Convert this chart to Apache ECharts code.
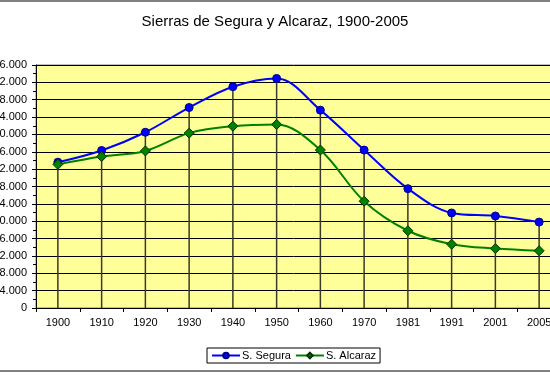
<!DOCTYPE html>
<html>
<head>
<meta charset="utf-8">
<script src="https://cdn.jsdelivr.net/npm/echarts@6/dist/echarts.min.js"></script>
<style>
html,body{margin:0;padding:0;background:#fff;}
#chart{width:550px;height:377px;}
</style>
</head>
<body>
<div id="chart"></div>
<script>
var years = ['1900','1910','1920','1930','1940','1950','1960','1970','1981','1991','2001','2005'];
var segura = [33600, 36300, 40500, 46200, 51000, 52900, 45600, 36400, 27500, 21900, 21200, 19800];
var alcaraz = [33100, 34900, 36200, 40300, 41900, 42300, 36400, 24600, 17800, 14700, 13700, 13200];
var yTicks = {min: 0, max: 56000, step: 4000};

var dropTops = segura.map(function(v, i){ return Math.max(v, alcaraz[i]); });
var FONT = '"Liberation Sans", Arial, sans-serif';

var chart = echarts.init(document.getElementById('chart'), null, {renderer: 'canvas'});
chart.setOption({
  animation: false,
  backgroundColor: '#ffffff',
  title: {
    text: 'Sierras de Segura y Alcaraz, 1900-2005',
    left: 'center', top: 9,
    textStyle: {fontFamily: FONT, fontSize: 15, fontWeight: 'normal', color: '#000'}
  },
  legend: {
    data: ['S. Segura', 'S. Alcaraz'],
    left: 207, top: 348,
    padding: [2, 4, 2, 4],
    itemGap: 4,
    itemWidth: 28, itemHeight: 7,
    borderColor: '#000', borderWidth: 1,
    backgroundColor: '#fff',
    textStyle: {fontFamily: FONT, fontSize: 11, color: '#000', padding: [0,0,0,-3]}
  },
  grid: {
    left: 36, top: 65, right: -11, bottom: 69,
    containLabel: false, outerBoundsMode: 'none',
    show: true, backgroundColor: '#FFFF99', borderColor: '#808080', borderWidth: 1
  },
  xAxis: {
    type: 'category', data: years, boundaryGap: true,
    axisLine: {lineStyle: {color: '#000', width: 1}},
    axisTick: {show: true, length: 4, alignWithLabel: false, lineStyle: {color: '#000'}},
    axisLabel: {fontFamily: FONT, fontSize: 11, color: '#000', margin: 9, interval: 0},
    splitLine: {show: false}
  },
  yAxis: {
    type: 'value', min: yTicks.min, max: yTicks.max, interval: yTicks.step,
    axisLine: {show: true, lineStyle: {color: '#000', width: 1}},
    axisTick: {show: true, length: 4, lineStyle: {color: '#000'}},
    minorTick: {show: true, splitNumber: 2, length: 3, lineStyle: {color: '#000'}},
    axisLabel: {
      fontFamily: FONT, fontSize: 11, color: '#000', margin: 9,
      formatter: function(v){ return v.toString().replace(/\B(?=(\d{3})+(?!\d))/g, '.'); }
    },
    splitLine: {show: true, lineStyle: {color: '#000', width: 1}}
  },
  graphic: [
    {type: 'line', shape: {x1: 0, y1: 1, x2: 550, y2: 1}, style: {stroke: '#808080', lineWidth: 2}, silent: true},
    {type: 'line', shape: {x1: 0, y1: 371, x2: 550, y2: 371}, style: {stroke: '#808080', lineWidth: 2}, silent: true}
  ],
  series: [
    {
      name: 'drop', type: 'bar', data: dropTops, barWidth: 1.5, silent: true,
      itemStyle: {color: '#3a3a2a'}, z: 1, legendHoverLink: false
    },
    {
      name: 'S. Segura', type: 'line', data: segura, smooth: 0.35,
      symbol: 'circle', symbolSize: 8,
      lineStyle: {color: '#0000FF', width: 2},
      itemStyle: {color: '#0000FF', borderColor: '#000080', borderWidth: 1},
      z: 3
    },
    {
      name: 'S. Alcaraz', type: 'line', data: alcaraz, smooth: 0.35,
      symbol: 'diamond', symbolSize: 10,
      lineStyle: {color: '#008000', width: 2},
      itemStyle: {color: '#008000', borderColor: '#003300', borderWidth: 1},
      z: 4
    }
  ]
});
</script>
</body>
</html>
